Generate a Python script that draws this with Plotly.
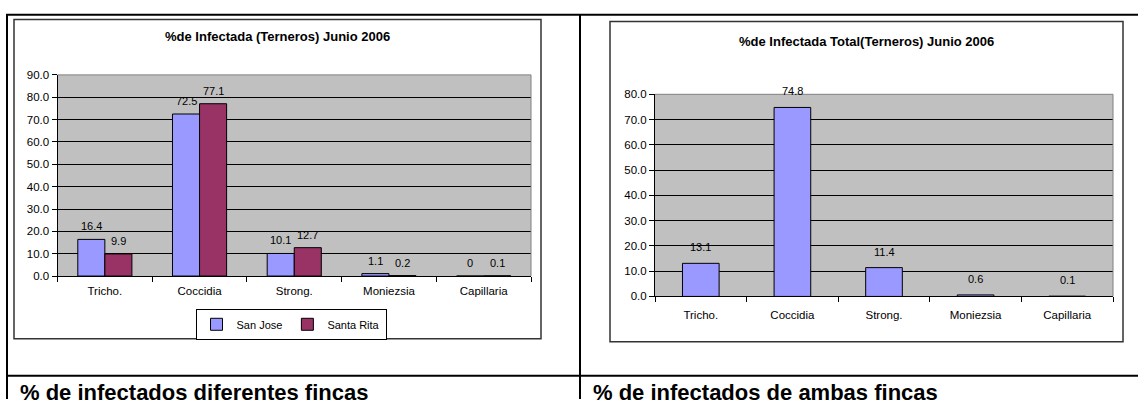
import plotly.graph_objects as go

# ---------------- data ----------------
categories = ["Tricho.", "Coccidia", "Strong.", "Moniezsia", "Capillaria"]
san_jose = [16.4, 72.5, 10.1, 1.1, 0]
santa_rita = [9.9, 77.1, 12.7, 0.2, 0.1]
total = [13.1, 74.8, 11.4, 0.6, 0.1]
left_ticks = [0, 10, 20, 30, 40, 50, 60, 70, 80, 90]
right_ticks = [0, 10, 20, 30, 40, 50, 60, 70, 80]
left_title = "%de Infectada (Terneros) Junio 2006"
right_title = "%de Infectada Total(Terneros) Junio 2006"
left_caption = "% de infectados diferentes fincas"
right_caption = "% de infectados de ambas fincas"
series_names = ["San Jose", "Santa Rita"]

# ---------------- layout helpers ----------------
W, H = 1138, 405
FONT = "Arial, Liberation Sans, sans-serif"
C_SJ = "#9999FF"
C_SR = "#993366"


def px(x):
    return x / W


def py(y):
    return 1 - y / H


# plot-area pixel boxes
L = dict(x0=57.5, x1=531, y0=71, y1=278.3)
R = dict(x0=655, x1=1113, y0=91, y1=299.3)

bw2 = 1 / 3.5  # two bars, gap width 150%
bw1 = 1 / 2.5  # one bar, gap width 150%

fig = go.Figure()
fig.add_trace(go.Bar(
    x=categories, y=san_jose, name=series_names[0],
    width=bw2, offset=-bw2,
    marker=dict(color=C_SJ, line=dict(color="black", width=1)),
    xaxis="x", yaxis="y"))
fig.add_trace(go.Bar(
    x=categories, y=santa_rita, name=series_names[1],
    width=bw2, offset=0,
    marker=dict(color=C_SR, line=dict(color="black", width=1)),
    xaxis="x", yaxis="y"))
fig.add_trace(go.Bar(
    x=categories, y=total, name="Total", showlegend=False,
    width=bw1, offset=-bw1 / 2,
    marker=dict(color=C_SJ, line=dict(color="black", width=1)),
    xaxis="x2", yaxis="y2"))

annotations = []
lab_font = dict(family=FONT, size=11, color="black")
for i, v in enumerate(san_jose):
    annotations.append(dict(x=i - bw2 / 2, y=v, xref="x", yref="y", text=f"{v:g}",
                            showarrow=False, yshift=13, yanchor="middle", font=lab_font))
for i, v in enumerate(santa_rita):
    annotations.append(dict(x=i + bw2 / 2, y=v, xref="x", yref="y", text=f"{v:g}",
                            showarrow=False, yshift=13, yanchor="middle", font=lab_font))
for i, v in enumerate(total):
    annotations.append(dict(x=i, y=v, xref="x2", yref="y2", text=f"{v:g}",
                            showarrow=False, yshift=16, yanchor="middle", font=lab_font))

# chart titles
annotations.append(dict(x=px(277.5), y=py(31), xref="paper", yref="paper", text=f"<b>{left_title}</b>",
                        showarrow=False, xanchor="center", yanchor="middle",
                        font=dict(family=FONT, size=13, color="black")))
annotations.append(dict(x=px(866.5), y=py(37), xref="paper", yref="paper", text=f"<b>{right_title}</b>",
                        showarrow=False, xanchor="center", yanchor="middle",
                        font=dict(family=FONT, size=13, color="black")))
# captions
annotations.append(dict(x=px(18), y=py(398), xref="paper", yref="paper", text=f"<b>{left_caption}</b>",
                        showarrow=False, xanchor="left", yanchor="middle",
                        font=dict(family=FONT, size=22, color="black")))
annotations.append(dict(x=px(591), y=py(398), xref="paper", yref="paper", text=f"<b>{right_caption}</b>",
                        showarrow=False, xanchor="left", yanchor="middle",
                        font=dict(family=FONT, size=22, color="black")))

shapes = []


def line(x0, y0, x1, y1, color="black", width=2, layer="above"):
    shapes.append(dict(type="line", xref="paper", yref="paper",
                       x0=px(x0), y0=py(y0), x1=px(x1), y1=py(y1),
                       line=dict(color=color, width=width), layer=layer))


def rect(x0, y0, x1, y1, color="#333333", width=1.5):
    shapes.append(dict(type="rect", xref="paper", yref="paper",
                       x0=px(x0), y0=py(y0), x1=px(x1), y1=py(y1),
                       line=dict(color=color, width=width), fillcolor="rgba(0,0,0,0)", layer="above"))


# table borders
line(6, 9, W, 9)
line(7, 9, 7, H)
line(580, 9, 580, H)
line(6, 381, W, 381)
# chart area boxes
rect(14, 14, 541, 343)
rect(610, 16, 1123, 346)
# plot area border (top / right, grey)
for B in (L, R):
    line(B["x0"], B["y0"], B["x1"], B["y0"], color="#808080", width=1)
    line(B["x1"], B["y0"], B["x1"], B["y1"], color="#808080", width=1)

tick_font = dict(family=FONT, size=11.5, color="black")
xcommon = dict(type="category", showline=True, linecolor="black", linewidth=1,
               ticks="outside", ticklen=5, tickcolor="black", tickson="boundaries",
               tickfont=tick_font, showgrid=False, range=[-0.5, 4.5], fixedrange=True)
ycommon = dict(showgrid=True, gridcolor="black", gridwidth=1, showline=True, linecolor="black",
               linewidth=1, ticks="outside", ticklen=5, tickcolor="black", zeroline=False,
               tickformat=".1f", tickfont=tick_font, fixedrange=True)

fig.update_layout(
    width=W, height=H,
    margin=dict(l=0, r=0, t=0, b=0),
    paper_bgcolor="white", plot_bgcolor="#C0C0C0",
    barmode="group",
    font=dict(family=FONT, color="black"),
    xaxis=dict(domain=[px(L["x0"]), px(L["x1"])], anchor="y", ticklabelstandoff=4, **xcommon),
    yaxis=dict(domain=[py(L["y1"]), py(L["y0"])], anchor="x", range=[0, 90],
               tickvals=left_ticks, **ycommon),
    xaxis2=dict(domain=[px(R["x0"]), px(R["x1"])], anchor="y2", ticklabelstandoff=8, **xcommon),
    yaxis2=dict(domain=[py(R["y1"]), py(R["y0"])], anchor="x2", range=[0, 80],
                tickvals=right_ticks, **ycommon),
    legend=dict(x=px(291), y=py(328), xanchor="center", yanchor="middle",
                orientation="h", bordercolor="black", borderwidth=1, bgcolor="white",
                font=dict(family=FONT, size=11, color="black"), itemwidth=30,
                traceorder="normal"),
    annotations=annotations,
    shapes=shapes,
    showlegend=True,
)

fig.write_html("out.html", config={"displayModeBar": False},
               post_script="document.body.style.margin='0';document.body.style.overflow='hidden';")
